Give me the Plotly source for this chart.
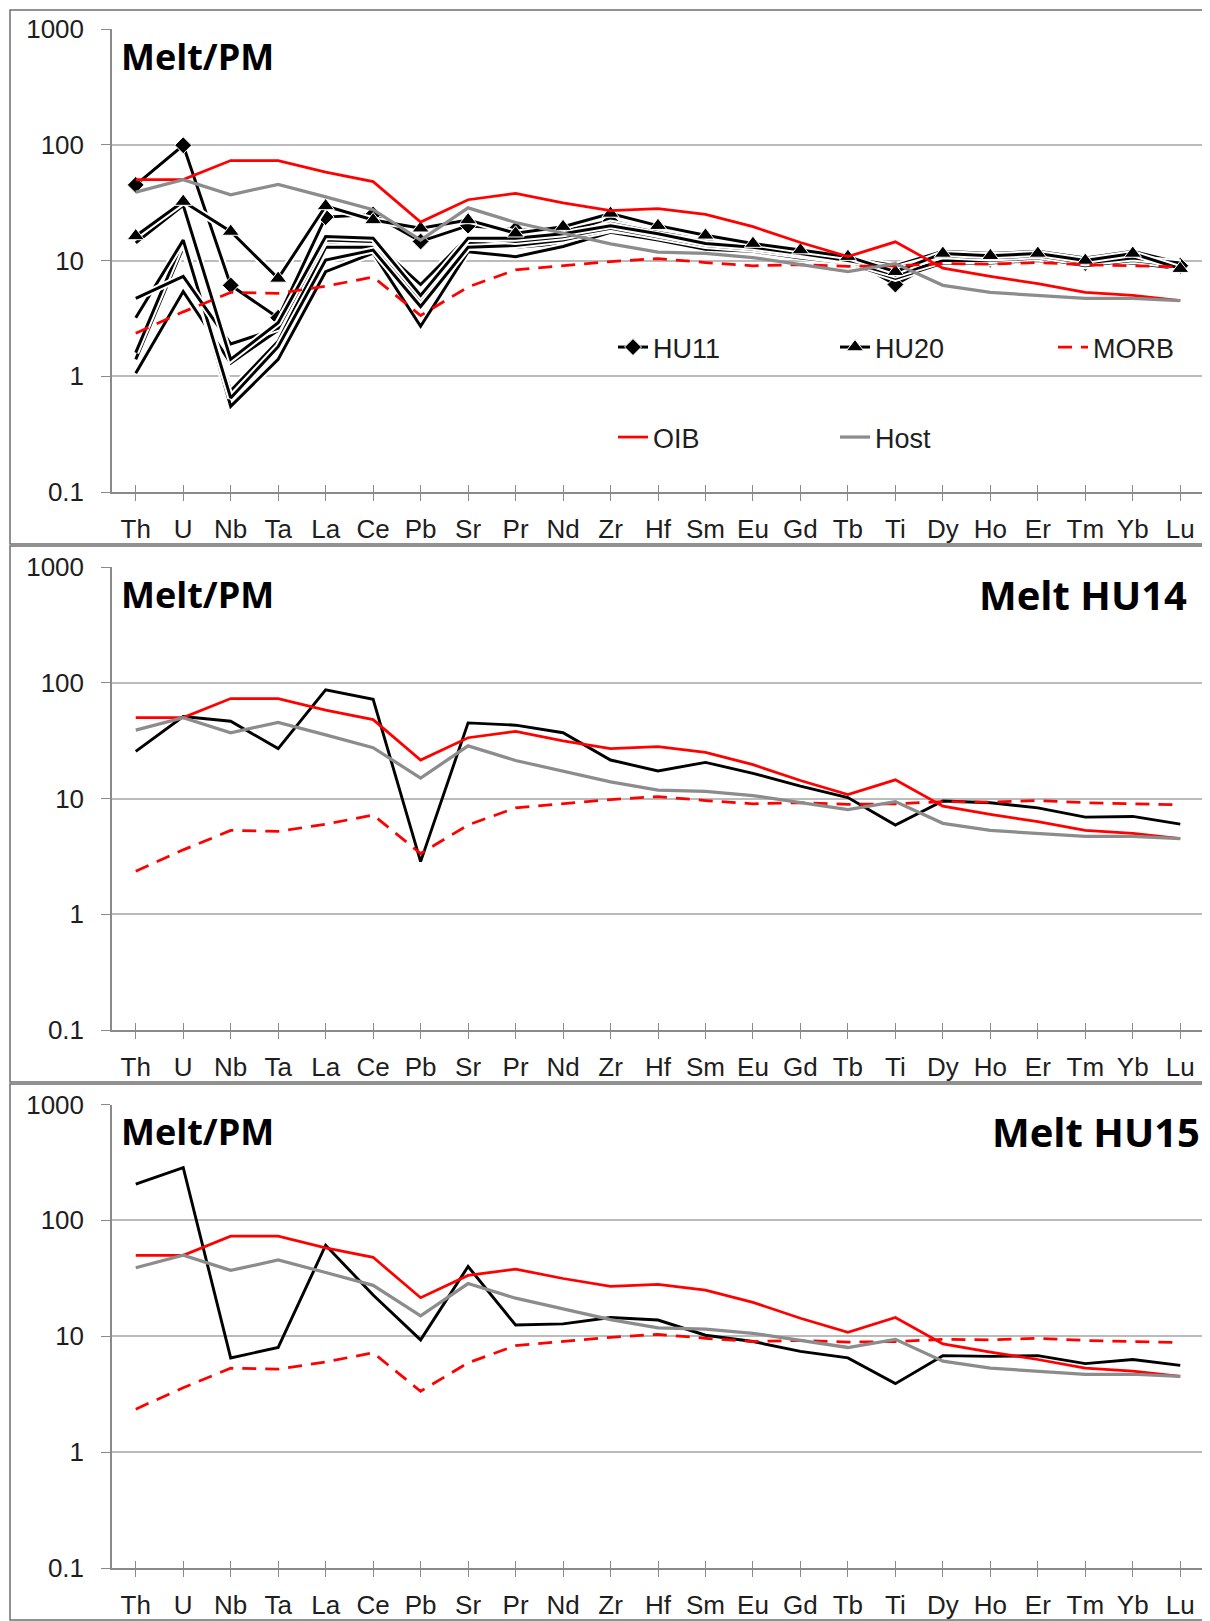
import plotly.graph_objects as go

# ---------------- data ----------------
elements = ["Th", "U", "Nb", "Ta", "La", "Ce", "Pb", "Sr", "Pr", "Nd", "Zr", "Hf",
            "Sm", "Eu", "Gd", "Tb", "Ti", "Dy", "Ho", "Er", "Tm", "Yb", "Lu"]

oib = [50, 50, 73, 73, 58, 48, 21.5, 33.5, 38, 31.5, 27, 28, 25, 19.6, 14.3, 10.8, 14.5,
       8.6, 7.3, 6.3, 5.3, 5.0, 4.5]
morb = [2.35, 3.6, 5.3, 5.2, 6.0, 7.2, 3.35, 5.9, 8.3, 9.0, 9.8, 10.4, 9.6, 9.0, 9.2, 8.9,
        9.0, 9.4, 9.3, 9.6, 9.2, 9.0, 8.8]
host = [39, 50, 37, 45.5, 35.5, 27.5, 15, 28.5, 21.3, 17.3, 13.9, 11.8, 11.5, 10.6, 9.2,
        8.0, 9.4, 6.1, 5.3, 5.0, 4.7, 4.7, 4.5]

# Panel 1 melt inclusions
hu11 = [45, 99, 6.1, 3.2, 23.7, 25, 14.6, 20, 18.5, 18, 22, 18, 15.5, 13.5, 12, 10.5, 6.2,
        10.5, 10.2, 10.8, 9.5, 10.5, 9.0]
hu20 = [16.3, 32.3, 17.8, 7.0, 29.6, 22.4, 19.0, 22.4, 17.2, 19.6, 25.5, 20, 16.5, 14, 12.3,
        10.8, 8.0, 11.5, 11.0, 11.5, 10.0, 11.5, 8.5]
melt_a = [14.2, 30, 1.4, 2.9, 16.1, 15.6, 5.0, 15.6, 15.6, 17, 20, 17, 14, 13, 11.5, 10, 8.5,
          11, 10.5, 11, 9.5, 10.5, 9.5]
melt_b = [4.7, 7.3, 1.9, 2.6, 15, 14.6, 6.2, 16, 14.6, 16, 19, 16, 13.5, 12.5, 11, 9.8, 7.5,
          10, 10, 10.5, 9.0, 10, 9.0]
melt_c = [3.2, 15, 0.65, 1.8, 10.1, 12.3, 4.0, 13, 13.5, 15, 18.5, 16.5, 14.5, 13, 12, 10.5,
          9.0, 12, 11.5, 12, 10.5, 12, 9.5]
melt_d = [1.6, 15, 0.55, 1.4, 8.0, 11.6, 2.7, 11.9, 10.8, 13.2, 17.5, 15, 12.5, 12, 10.5, 9.5,
          7.0, 9.5, 9.5, 10, 9.0, 9.5, 8.5]
melt_e = [1.4, 13, 0.75, 2.0, 13, 13, 4.4, 14, 13.8, 15.5, 21, 17.5, 15, 13.5, 12, 10.5, 8.0,
          11, 11, 11, 10, 11, 9.0]
melt_f = [1.06, 5.4, 1.3, 2.5, 14, 14, 4.2, 13.5, 13, 14, 19.5, 16, 13, 12, 11, 10, 7.5,
          10.5, 10, 10.5, 9.5, 10.5, 8.8]

# Panel 2 and 3 melts
hu14 = [25.5, 51, 46.5, 27, 87, 72, 2.85, 45, 43, 37, 21.5, 17.3, 20.5, 16.5, 12.8, 10.2,
        5.9, 9.5, 9.2, 8.3, 6.9, 7.0, 6.0]
hu15 = [206, 285, 6.5, 8.0, 61, 22.7, 9.3, 40, 12.5, 12.8, 14.5, 13.8, 10.2, 9.0, 7.4, 6.5,
        3.9, 6.8, 6.7, 6.8, 5.8, 6.3, 5.6]

ytick_vals = [0.1, 1, 10, 100, 1000]
ytick_text = ["0.1", "1", "10", "100", "1000"]

# ---------------- geometry helpers ----------------
OFF = 8                      # default page body margin
W, H = 1210 - OFF, 1621 - OFF


def px(xw):
    return (xw - OFF) / W


def py(yw):
    return 1 - (yw - OFF) / H


RED = "#FF0000"
GREY = "#8C8C8C"
GRID = "#BBBBBB"
AXIS = "#8A8A8A"
FONT = "Liberation Sans, Arial, sans-serif"
TXT = "#1E1E1E"

fig = go.Figure()


def add_melt(xa, ya, vals, name=None, symbol=None, legend="legend", width=3.0):
    fig.add_trace(go.Scatter(x=elements, y=vals, mode="lines", xaxis=xa, yaxis=ya,
                             line=dict(color="white", width=width + 4),
                             showlegend=False, hoverinfo="skip"))
    mode = "lines+markers" if symbol else "lines"
    fig.add_trace(go.Scatter(
        x=elements, y=vals, mode=mode, xaxis=xa, yaxis=ya, name=name,
        line=dict(color="black", width=width),
        marker=dict(symbol=symbol, size=13 if symbol == "diamond" else 15, color="black",
                    line=dict(color="white", width=1)) if symbol else None,
        showlegend=name is not None, legend=legend))


# Panel 1
add_melt("x", "y", hu11, name="HU11", symbol="diamond", legend="legend")
for v in [melt_f, melt_e, melt_d, melt_c, melt_b, melt_a]:
    add_melt("x", "y", v)
add_melt("x", "y", hu20, name="HU20", symbol="triangle-up", legend="legend2")

fig.add_trace(go.Scatter(x=elements, y=morb, mode="lines", name="MORB", xaxis="x", yaxis="y",
                         line=dict(color=RED, width=2.75, dash="14px,9px"), legend="legend3"))
fig.add_trace(go.Scatter(x=elements, y=oib, mode="lines", name="OIB", xaxis="x", yaxis="y",
                         line=dict(color=RED, width=2.75), legend="legend4"))
fig.add_trace(go.Scatter(x=elements, y=host, mode="lines", name="Host", xaxis="x", yaxis="y",
                         line=dict(color=GREY, width=3.25), legend="legend5"))

# Panels 2 and 3
for xa, ya, melt in [("x2", "y2", hu14), ("x3", "y3", hu15)]:
    fig.add_trace(go.Scatter(x=elements, y=melt, mode="lines", xaxis=xa, yaxis=ya,
                             line=dict(color="black", width=2.9), showlegend=False))
    fig.add_trace(go.Scatter(x=elements, y=morb, mode="lines", xaxis=xa, yaxis=ya,
                             line=dict(color=RED, width=2.75, dash="14px,9px"), showlegend=False))
    fig.add_trace(go.Scatter(x=elements, y=oib, mode="lines", xaxis=xa, yaxis=ya,
                             line=dict(color=RED, width=2.75), showlegend=False))
    fig.add_trace(go.Scatter(x=elements, y=host, mode="lines", xaxis=xa, yaxis=ya,
                             line=dict(color=GREY, width=3.25), showlegend=False))

# ---------------- layout ----------------
panels = [(29, 492), (567, 1030), (1104.5, 1568)]   # plot-area top/bottom (window px)
x_dom = [px(112), px(1204)]

layout = dict(
    width=W, height=H, margin=dict(l=0, r=0, t=0, b=0),
    paper_bgcolor="white", plot_bgcolor="white",
    font=dict(family=FONT, color=TXT, size=24),
    showlegend=True,
)

for i, (top, bot) in enumerate(panels):
    sfx = "" if i == 0 else str(i + 1)
    layout["xaxis" + sfx] = dict(
        domain=x_dom, anchor="y" + sfx, type="category", range=[-0.5, len(elements) - 0.5],
        showline=True, linecolor=AXIS, linewidth=1.5, showgrid=False, zeroline=False,
        ticks="outside", ticklen=7, tickcolor=AXIS, tickwidth=1.2,
        tickfont=dict(size=26, family=FONT, color=TXT), ticklabelstandoff=6,
        automargin=False, fixedrange=True)
    layout["yaxis" + sfx] = dict(
        domain=[py(bot), py(top)], anchor="x" + sfx, type="log", range=[-1, 3],
        tickmode="array", tickvals=ytick_vals, ticktext=ytick_text,
        showline=True, linecolor=AXIS, linewidth=1.5, showgrid=True, gridcolor=GRID,
        gridwidth=1.5, zeroline=False, ticks="outside", ticklen=9, tickcolor=AXIS,
        tickfont=dict(size=26, family=FONT, color=TXT), ticklabelstandoff=12,
        automargin=False, fixedrange=True)
    # overlay axis giving inside tick marks so category ticks cross the axis line
    layout["xaxis" + str(i + 4)] = dict(
        domain=x_dom, anchor="y" + sfx, overlaying="x" + sfx, type="linear",
        range=[-0.5, len(elements) - 0.5], tickmode="array",
        tickvals=list(range(len(elements))), showticklabels=False, ticks="inside",
        ticklen=7, tickcolor=AXIS, tickwidth=1.2, showgrid=False, zeroline=False,
        showline=False, side="bottom", fixedrange=True)

# legend entries: (legend id, text x in window px, row y in window px)
leg_pos = [("legend", 653, 347.5), ("legend2", 875, 347.5), ("legend3", 1093, 347.5),
           ("legend4", 653, 437.5), ("legend5", 875, 437.5)]
for lid, tx, ty in leg_pos:
    layout[lid] = dict(orientation="h", x=px(tx - 40), y=py(ty), xanchor="left",
                       yanchor="middle", font=dict(size=27, family=FONT, color=TXT),
                       bgcolor="rgba(0,0,0,0)", borderwidth=0)

fig.update_layout(**layout)

# invisible traces so the overlay tick axes are rendered
for i in range(3):
    fig.add_trace(go.Scatter(x=[0], y=[1], xaxis="x" + str(i + 4),
                             yaxis="y" if i == 0 else "y" + str(i + 1),
                             mode="markers", marker=dict(opacity=0), showlegend=False,
                             hoverinfo="skip"))

# panel frames
frames = [(10, 544), (546, 1082), (1084, 1620)]
for t, b in frames:
    fig.add_shape(type="rect", xref="paper", yref="paper", x0=px(10), x1=px(1209),
                  y0=py(b), y1=py(t), line=dict(color="#6E6E6E", width=1.5),
                  layer="below")

# titles
title_font = dict(family="Open Sans, Liberation Sans, sans-serif", size=36, color="black")
big_font = dict(family="Open Sans, Liberation Sans, sans-serif", size=40, color="black")
for ycen in [57, 595, 1131.5]:
    fig.add_annotation(text="<b>Melt/PM</b>", xref="paper", yref="paper", x=px(119),
                       y=py(ycen), xanchor="left", yanchor="middle", showarrow=False,
                       font=title_font)
fig.add_annotation(text="<b>Melt HU14</b>", xref="paper", yref="paper", x=px(1189),
                   y=py(595), xanchor="right", yanchor="middle", showarrow=False,
                   font=big_font)
fig.add_annotation(text="<b>Melt HU15</b>", xref="paper", yref="paper", x=px(1202),
                   y=py(1131.5), xanchor="right", yanchor="middle", showarrow=False,
                   font=big_font)

fig.write_html("out.html")
